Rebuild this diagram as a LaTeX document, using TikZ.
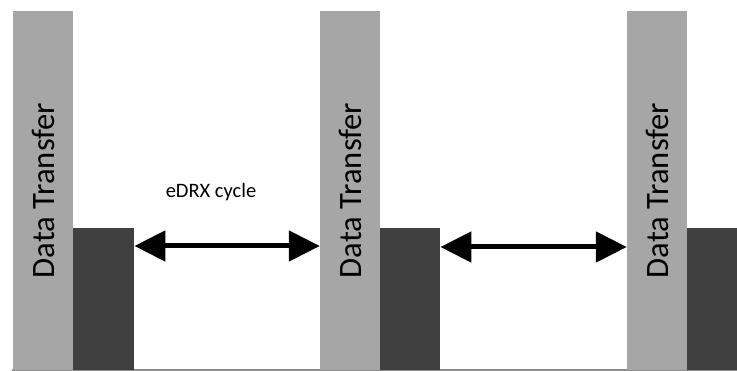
\documentclass[tikz,border=0pt]{standalone}
\usepackage{fontspec}
\setmainfont{Carlito}
\usetikzlibrary{arrows.meta,calc}
\definecolor{barlight}{HTML}{A6A6A6}
\definecolor{bardark}{HTML}{404040}
\definecolor{baseln}{HTML}{8C8C8C}
\begin{document}
\begin{tikzpicture}[x=1pt,y=-1pt,
  databar/.style={draw=none,fill=barlight,rotate=90,minimum width=359pt,minimum height=60pt,inner sep=0pt,
    font=\fontsize{32.6}{39}\selectfont},
  darkbox/.style={draw=none,fill=bardark,minimum height=142pt,inner sep=0pt,anchor=north west},
  cyclearrow/.style={line width=5pt,{Triangle[length=31pt,width=30pt]}-{Triangle[length=31pt,width=30pt]},shorten <=0pt,shorten >=0pt},
  lbl/.style={font=\fontsize{20.5}{24}\selectfont,anchor=base,inner sep=0pt}]
\useasboundingbox (0,0) rectangle (737,371);
\draw[baseln,line width=1.2pt] (12,370) -- (737,370);
\node[databar] (b1) at (43,190.5) {Data Transfer};
\node[databar] (b2) at (350,190.5) {Data Transfer};
\node[databar] (b3) at (657,190.5) {Data Transfer};
\node[darkbox,minimum width=61pt] (d1) at (73,228) {};
\node[darkbox,minimum width=60pt] (d2) at (380,228) {};
\node[darkbox,minimum width=50pt] (d3) at (687,228) {};
\coordinate (a1l) at ($(d1.north east)+(0,18)$);
\coordinate (a2l) at ($(d2.north east)+(0,19)$);
\draw[cyclearrow] (a1l) -- (b2.north |- a1l);
\draw[cyclearrow] (a2l) -- (b3.north |- a2l);
\node[lbl] (cyc) at (211,198) {eDRX cycle};
\end{tikzpicture}
\end{document}
